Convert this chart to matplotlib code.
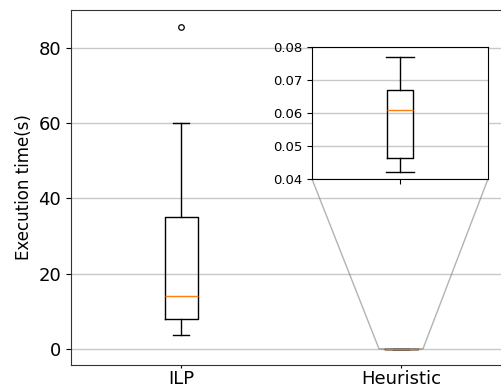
import matplotlib
matplotlib.use("Agg")
import matplotlib.pyplot as plt

categories = ["ILP", "Heuristic"]
# box statistics
whislo = [3.7, 0.042]
q1 = [7.9, 0.0465]
med = [14.1, 0.061]
q3 = [35.1, 0.067]
whishi = [59.9, 0.077]
fliers = [[85.6], []]
inset_yticks = [0.04, 0.05, 0.06, 0.07, 0.08]
main_yticks = [0, 20, 40, 60, 80]

stats = []
for i, name in enumerate(categories):
    stats.append(dict(label=name, whislo=whislo[i], q1=q1[i], med=med[i],
                      q3=q3[i], whishi=whishi[i], fliers=fliers[i]))

fig = plt.figure(figsize=(5.01, 3.88), dpi=100)
ax = fig.add_axes([71/501, 1-365/388, 440/501, 355/388])

flierprops = dict(marker='o', markersize=4, markerfacecolor='none',
                  markeredgecolor='black', markeredgewidth=0.9)
ax.bxp(stats, positions=[1, 2], widths=0.15, flierprops=flierprops)
ax.set_xlim(0.5, 2.5)
ax.set_ylim(-4.25, 90)
ax.set_yticks(main_yticks)
ax.yaxis.grid(True, color='#c8c8c8', linewidth=1.0)
ax.set_axisbelow(True)
ax.tick_params(axis='y', labelsize=13)
ax.tick_params(axis='x', labelsize=13, length=2.5, pad=1.2)
ax.set_ylabel("Execution time(s)", fontsize=12)
for sp in ax.spines.values():
    sp.set_color('#333333')

axins = fig.add_axes([312/501, 1-179/388, 176/501, 132/388])
axins.bxp([stats[1]], positions=[2], widths=0.15, capwidths=[0.155],
          flierprops=flierprops)
axins.set_xlim(1.5, 2.5)
axins.set_ylim(0.04, 0.08)
axins.set_yticks(inset_yticks)
axins.set_yticklabels([f"{v:.2f}" for v in inset_yticks])
axins.yaxis.grid(True, color='#c8c8c8', linewidth=1.0)
axins.set_axisbelow(True)
axins.tick_params(axis='y', labelsize=9.5)
axins.tick_params(axis='x', labelbottom=False)

ax.indicate_inset([1.9, 0.04, 0.2, 0.04], inset_ax=axins,
                  edgecolor='#808080', alpha=0.6, linewidth=1.0)

fig.savefig("out.png", dpi=100)
